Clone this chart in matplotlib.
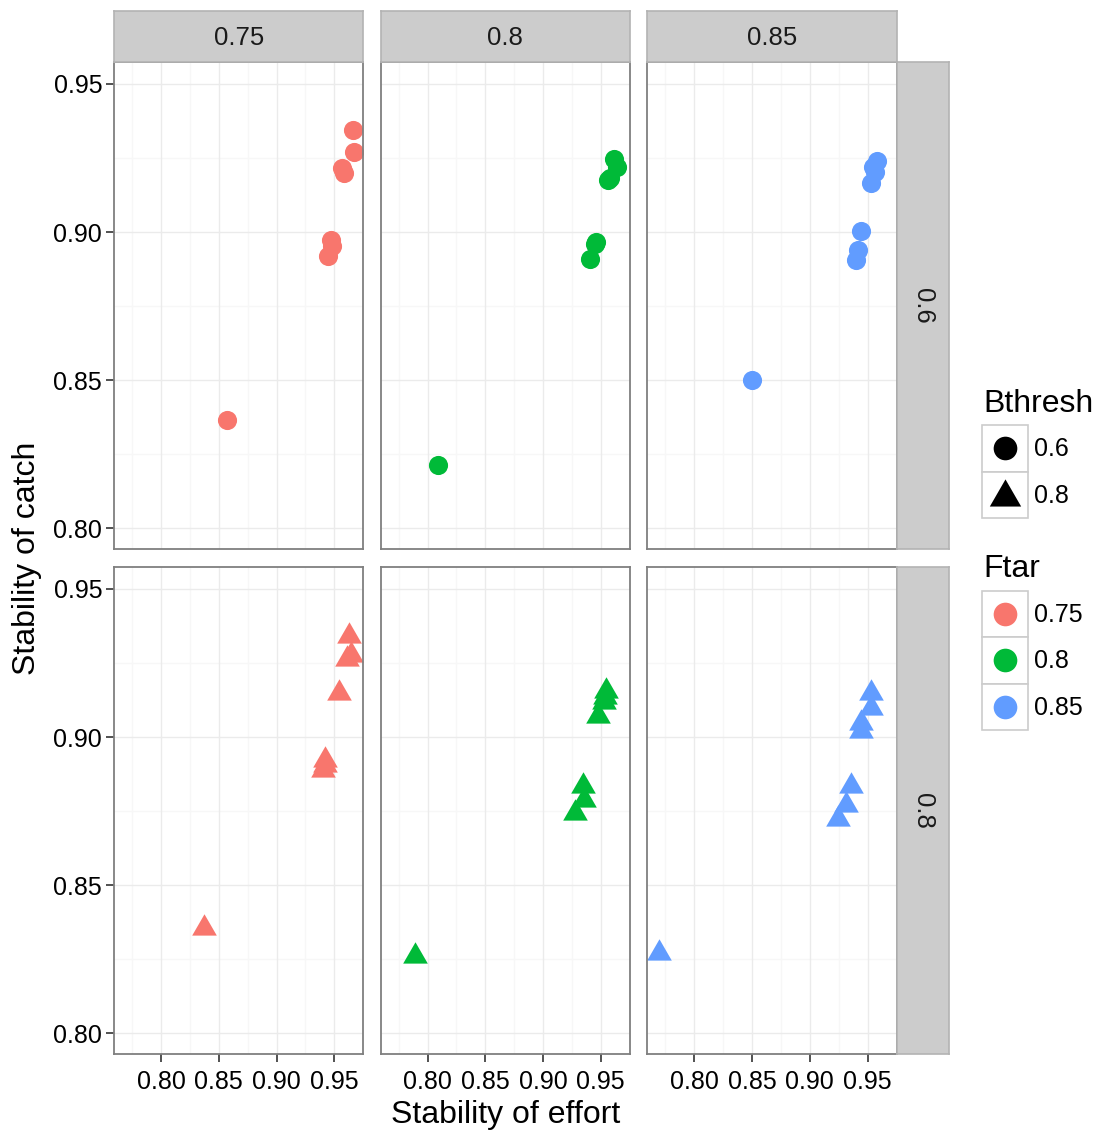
import matplotlib
matplotlib.use("Agg")
import matplotlib.pyplot as plt
from matplotlib.patches import Rectangle
from matplotlib.path import Path

plt.rcParams['font.family'] = ['Liberation Sans', 'DejaVu Sans']

# ---------------- data ----------------
ftar_levels = ["0.75", "0.8", "0.85"]
bthresh_levels = ["0.6", "0.8"]
ftar_colors = ["#F8766D", "#00BA38", "#619CFF"]

# Bthresh = 0.6 (circles)
effort_b06_f075 = [0.9658, 0.9667, 0.9570, 0.9580, 0.9473, 0.9484, 0.9444, 0.8575]
catch_b06_f075 = [0.9345, 0.9269, 0.9215, 0.9200, 0.8973, 0.8953, 0.8920, 0.8366]
effort_b06_f080 = [0.9612, 0.9640, 0.9577, 0.9560, 0.9462, 0.9450, 0.9410, 0.8095]
catch_b06_f080 = [0.9246, 0.9221, 0.9182, 0.9174, 0.8966, 0.8960, 0.8909, 0.8214]
effort_b06_f085 = [0.9580, 0.9566, 0.9531, 0.9550, 0.9445, 0.9413, 0.9399, 0.8500]
catch_b06_f085 = [0.9241, 0.9204, 0.9167, 0.9220, 0.9005, 0.8939, 0.8906, 0.8500]

# Bthresh = 0.8 (triangles)
effort_b08_f075 = [0.9629, 0.9609, 0.9644, 0.9537, 0.9421, 0.9420, 0.9406, 0.8371]
catch_b08_f075 = [0.9341, 0.9262, 0.9276, 0.9147, 0.8924, 0.8905, 0.8889, 0.8355]
effort_b08_f080 = [0.9549, 0.9534, 0.9525, 0.9473, 0.9343, 0.9355, 0.9280, 0.7889]
catch_b08_f080 = [0.9156, 0.9136, 0.9117, 0.9072, 0.8835, 0.8788, 0.8745, 0.8260]
effort_b08_f085 = [0.9529, 0.9529, 0.9445, 0.9439, 0.9358, 0.9312, 0.9243, 0.7694]
catch_b08_f085 = [0.9147, 0.9099, 0.9046, 0.9021, 0.8835, 0.8771, 0.8722, 0.8271]

effort = [[effort_b06_f075, effort_b06_f080, effort_b06_f085],
          [effort_b08_f075, effort_b08_f080, effort_b08_f085]]
catch = [[catch_b06_f075, catch_b06_f080, catch_b06_f085],
         [catch_b08_f075, catch_b08_f080, catch_b08_f085]]

x_ticks = [0.80, 0.85, 0.90, 0.95]
x_tick_labels = ["0.80", "0.85", "0.90", "0.95"]
x_minor = [0.775, 0.825, 0.875, 0.925]
y_ticks = [0.80, 0.85, 0.90, 0.95]
y_tick_labels = ["0.80", "0.85", "0.90", "0.95"]
y_minor = [0.825, 0.875, 0.925]

x_label = "Stability of effort"
y_label = "Stability of catch"

# ---------------- layout ----------------
W, H = 1099, 1133
DPI = 100
fig = plt.figure(figsize=(W / DPI, H / DPI), dpi=DPI)

def px_axes(left, top, right, bottom, **kw):
    return fig.add_axes([left / W, 1 - bottom / H, (right - left) / W, (bottom - top) / H], **kw)

col_x = [(114.0, 363.3), (380.5, 629.8), (647.3, 896.6)]
row_y = [(62.0, 549.0), (567.0, 1054.0)]
strip_top = (10.7, 62.0)
strip_right = (896.6, 948.6)

XLIM = (0.7593, 0.9751)
YLIM = (0.7930, 0.9574)

border_col = "#7F7F7F"
strip_fill = "#CCCCCC"
strip_edge = "#B3B3B3"
major_grid = "#EBEBEB"
minor_grid = "#F7F7F7"

tri_path = Path([(0, 1), (-0.8660, -0.5), (0.8660, -0.5), (0, 1)],
                [Path.MOVETO, Path.LINETO, Path.LINETO, Path.CLOSEPOLY])
shapes = ["o", tri_path]
sizes = [190, 420]

TICK_FS = 18
STRIP_FS = 18.5
TITLE_FS = 23

for r in range(2):
    for c in range(3):
        (l, rr), (t, b) = col_x[c], row_y[r]
        ax = px_axes(l, t, rr, b)
        ax.set_xlim(*XLIM)
        ax.set_ylim(*YLIM)
        for v in x_minor:
            ax.axvline(v, color=minor_grid, lw=1.0, zorder=0)
        for v in y_minor:
            ax.axhline(v, color=minor_grid, lw=1.0, zorder=0)
        for v in x_ticks:
            ax.axvline(v, color=major_grid, lw=1.0, zorder=0.5)
        for v in y_ticks:
            ax.axhline(v, color=major_grid, lw=1.0, zorder=0.5)
        ax.scatter(effort[r][c], catch[r][c], s=sizes[r], marker=shapes[r],
                   color=ftar_colors[c], linewidths=0, zorder=3, clip_on=True)
        for sp in ax.spines.values():
            sp.set_color(border_col)
            sp.set_linewidth(1.3)
            sp.set_zorder(5)
        ax.set_xticks(x_ticks)
        ax.set_yticks(y_ticks)
        ax.tick_params(length=5.5, width=1.2, color="#333333", direction="out",
                       labelsize=TICK_FS, labelcolor="black", pad=3)
        ax.tick_params(axis="x", pad=6)
        if r == 1:
            ax.set_xticklabels(x_tick_labels)
        else:
            ax.tick_params(axis="x", length=0, labelbottom=False)
        if c == 0:
            ax.set_yticklabels(y_tick_labels)
        else:
            ax.tick_params(axis="y", length=0, labelleft=False)

# top strips
for c in range(3):
    (l, rr) = col_x[c]
    sax = px_axes(l, strip_top[0], rr, strip_top[1])
    sax.set_facecolor(strip_fill)
    sax.set_xticks([]); sax.set_yticks([])
    for sp in sax.spines.values():
        sp.set_color(strip_edge); sp.set_linewidth(1.2)
    sax.text(0.5, 0.46, ftar_levels[c], ha="center", va="center",
             fontsize=STRIP_FS, color="#1A1A1A", transform=sax.transAxes)

# right strips
for r in range(2):
    (t, b) = row_y[r]
    sax = px_axes(strip_right[0], t, strip_right[1], b)
    sax.set_facecolor(strip_fill)
    sax.set_xticks([]); sax.set_yticks([])
    for sp in sax.spines.values():
        sp.set_color(strip_edge); sp.set_linewidth(1.2)
    sax.text(0.5, 0.5, bthresh_levels[r], ha="center", va="center", rotation=-90,
             fontsize=STRIP_FS, color="#1A1A1A", transform=sax.transAxes)

# axis titles
fig.text((col_x[0][0] + col_x[2][1]) / 2 / W, 1 - 1115 / H, x_label,
         ha="center", va="center", fontsize=TITLE_FS)
fig.text(27 / W, 1 - 558 / H, y_label, ha="center", va="center",
         rotation=90, fontsize=TITLE_FS)

# ---------------- legends ----------------
lax = px_axes(960, 380, 1099, 740)
lax.set_xlim(960, 1099)
lax.set_ylim(740, 380)
lax.axis("off")

key_l, key_r = 982.5, 1028
key_h = 46.5

def draw_key(top, marker, color, ms):
    lax.add_patch(Rectangle((key_l, top), key_r - key_l, key_h, facecolor="white",
                            edgecolor="#CCCCCC", lw=1.2, zorder=1))
    lax.scatter([(key_l + key_r) / 2], [top + key_h / 2 + (2.5 if marker is tri_path else 0)],
                s=ms, marker=marker, color=color, linewidths=0, zorder=2)

lax.text(983, 404, "Bthresh", ha="left", va="center", fontsize=TITLE_FS)
for i, lev in enumerate(bthresh_levels):
    top = 425 + i * key_h
    draw_key(top, shapes[i], "black", [290, 680][i])
    lax.text(1034, top + key_h / 2 + 1, lev, ha="left", va="center", fontsize=TICK_FS)

lax.text(983, 569, "Ftar", ha="left", va="center", fontsize=TITLE_FS)
for i, lev in enumerate(ftar_levels):
    top = 590.5 + i * key_h
    draw_key(top, "o", ftar_colors[i], 290)
    lax.text(1034, top + key_h / 2 + 1, lev, ha="left", va="center", fontsize=TICK_FS)

fig.savefig("out.png", dpi=DPI)
